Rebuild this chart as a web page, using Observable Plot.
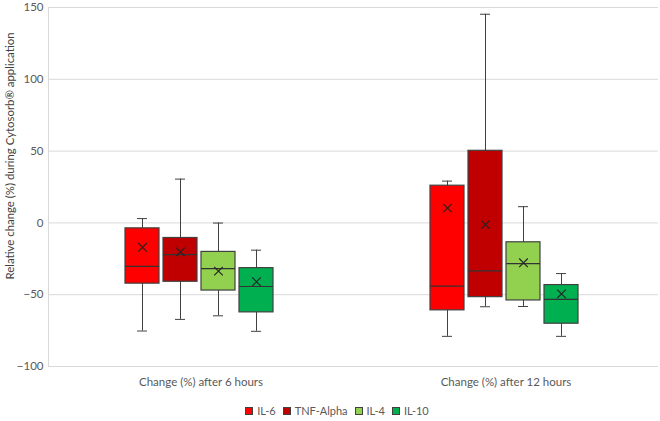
<!DOCTYPE html>
<html><head><meta charset="utf-8">
<script src="https://cdn.jsdelivr.net/npm/d3@7"></script>
<script src="https://cdn.jsdelivr.net/npm/@observablehq/plot@0.6"></script>
<style>
html,body{margin:0;padding:0;background:#fff;}
body{font-family:Lato, "Open Sans", sans-serif;width:660px;}
#legend{display:flex;justify-content:center;align-items:center;gap:7px;margin-top:8px;padding-left:14px;height:16px;font-size:11px;color:#595959;line-height:16px;}
#legend .item{display:flex;align-items:center;}
#legend .sw{width:6px;height:6px;border:1px solid #404040;margin-right:4px;box-sizing:content-box;}
</style></head><body><div id="chart"></div><div id="legend"></div>
<script>
const groups = ["Change (%) after 6 hours", "Change (%) after 12 hours"];
const series = ["IL-6", "TNF-Alpha", "IL-4", "IL-10"];
const colors = ["#FF0000", "#C00000", "#92D050", "#00B050"];
const yTicks = [-100, -50, 0, 50, 100, 150];
// per group, per series
const whiskerLow  = [[-75.3, -67.2, -64.7, -75.5], [-79.0, -58.4, -58.2, -79.0]];
const quartile1   = [[-42.3, -41.0, -47.1, -62.3], [-60.9, -51.7, -54.0, -70.2]];
const median      = [[-30.3, -22.1, -31.8, -44.3], [-44.0, -33.4, -28.3, -53.3]];
const quartile3   = [[-3.8, -10.5, -20.2, -31.5], [25.9, 50.2, -13.5, -43.3]];
const whiskerHigh = [[3.0, 30.5, -0.1, -19.0], [29.1, 145.3, 11.3, -35.3]];
const mean        = [[-17.0, -20.2, -33.6, -41.0], [10.3, -1.2, -27.8, -49.4]];

const rows = groups.flatMap((g, gi) => series.map((s, si) => ({
  group: g, series: s,
  low: whiskerLow[gi][si], q1: quartile1[gi][si], med: median[gi][si],
  q3: quartile3[gi][si], high: whiskerHigh[gi][si], mean: mean[gi][si]
})));

const lineColor = "#404040";
const plot = Plot.plot({
  width: 660, height: 395,
  marginTop: 7, marginBottom: 29, marginLeft: 48, marginRight: 2,
  style: {fontFamily: "Lato, 'Open Sans', sans-serif", fontSize: "11.5px", color: "#595959", background: "#fff"},
  fx: {domain: groups, padding: 0, label: null},
  x: {domain: series, paddingInner: 0.1, paddingOuter: 2, align: 0.49, axis: null},
  y: {domain: [-100, 150], label: null},
  color: {domain: series, range: colors},
  marks: [
    Plot.gridY(yTicks, {stroke: "#d9d9d9", strokeOpacity: 1}),
    Plot.frame({anchor: "left", facetAnchor: "left", stroke: "#d9d9d9", strokeOpacity: 1}),
    Plot.ruleX(rows, {fx: "group", x: "series", y1: "low", y2: "high", stroke: lineColor}),
    Plot.tickY(rows, {fx: "group", x: "series", y: "low", stroke: lineColor, insetLeft: 12, insetRight: 12}),
    Plot.tickY(rows, {fx: "group", x: "series", y: "high", stroke: lineColor, insetLeft: 12, insetRight: 12}),
    Plot.barY(rows, {fx: "group", x: "series", y1: "q1", y2: "q3", fill: "series", stroke: lineColor, strokeWidth: 1.2}),
    Plot.tickY(rows, {fx: "group", x: "series", y: "med", stroke: "#333", strokeWidth: 1.2}),
    Plot.dot(rows, {fx: "group", x: "series", y: "mean", symbol: "times", r: 4, stroke: "#222", strokeWidth: 1.1}),
    Plot.axisY(yTicks, {tickSize: 0, tickPadding: 5, label: null}),
    Plot.axisFx({anchor: "bottom", tickSize: 0, tickPadding: 11, label: null})
  ]
});
d3.select(plot).append("text")
  .attr("transform", "translate(9,156) rotate(-90)")
  .attr("text-anchor", "middle")
  .attr("dominant-baseline", "central")
  .attr("fill", "#404040")
  .attr("font-size", 11.4)
  .text("Relative change (%) during Cytosorb® application");
document.getElementById("chart").appendChild(plot);

const legend = document.getElementById("legend");
series.forEach((s, i) => {
  const item = document.createElement("div");
  item.className = "item";
  const sw = document.createElement("span");
  sw.className = "sw";
  sw.style.background = colors[i];
  const t = document.createElement("span");
  t.textContent = s;
  item.appendChild(sw); item.appendChild(t);
  legend.appendChild(item);
});
</script>
</body></html>
